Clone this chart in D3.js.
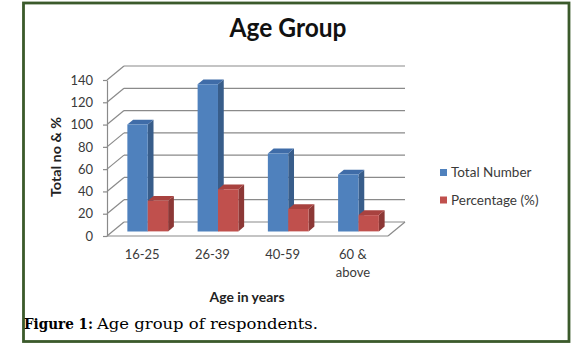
<!DOCTYPE html>
<html>
<head>
<meta charset="utf-8">
<script src="https://cdn.jsdelivr.net/npm/d3@7"></script>
<style>
  body { margin: 0; background: #fff; }
  svg { display: block; }
</style>
</head>
<body>
<svg id="chart" width="580" height="353"></svg>
<script>
'use strict';

// values
const categories = ["16-25", "26-39", "40-59", "60 & above"];
const totalNumber = [96, 132, 70, 51];
const percentage = [27.4, 37.7, 20.1, 14.6];
const yTicks = [0, 20, 40, 60, 80, 100, 120, 140];
const seriesNames = ["Total Number", "Percentage (%)"];

const font = "Lato, 'Open Sans', sans-serif";
let svg = d3.select("#chart");

// frame round the whole figure
svg.append("rect")
  .attr("x", 23.5).attr("y", 3).attr("width", 545.5).attr("height", 338.5)
  .attr("fill", "none").attr("stroke", "#3b5a2b").attr("stroke-width", 2.8);

// 3d layout: front plane of the floor and the depth offset
let left = 107, right = 388;
let depthX = 17, depthY = -14;
let x = d3.scaleBand().domain(categories).range([left, right]);
let y = d3.scaleLinear().domain([0, 140]).range([236, 80]);

let grid = svg.append("g").attr("stroke", "#8a8a8a").attr("stroke-width", 1.2).attr("fill", "none");
// back wall gridlines and side wall diagonals
yTicks.forEach(t => {
  grid.append("line")
    .attr("x1", left + depthX).attr("y1", y(t) + depthY)
    .attr("x2", right + depthX).attr("y2", y(t) + depthY);
  grid.append("line")
    .attr("x1", left).attr("y1", y(t))
    .attr("x2", left + depthX).attr("y2", y(t) + depthY);
});
// floor front edge and right edge
grid.append("line").attr("x1", left).attr("y1", y(0)).attr("x2", right).attr("y2", y(0));
grid.append("line").attr("x1", right).attr("y1", y(0))
  .attr("x2", right + depthX).attr("y2", y(0) + depthY);

// y axis on the front plane
let yAxis = svg.append("g")
  .attr("transform", `translate(${left},0)`)
  .call(d3.axisLeft(y).tickValues(yTicks).tickSize(4).tickSizeOuter(0).tickPadding(10));
yAxis.select(".domain").attr("stroke", "#8a8a8a").attr("stroke-width", 1.2);
yAxis.selectAll(".tick line").attr("stroke", "#8a8a8a").attr("stroke-width", 1.2);
yAxis.selectAll(".tick text").style("font-family", font).style("font-size", "13px").attr("fill", "#3a3a3a");

// x axis labels
let xAxis = svg.append("g")
  .attr("transform", `translate(0,${y(0)})`)
  .call(d3.axisBottom(x).tickSize(0).tickPadding(14));
xAxis.select(".domain").remove();
xAxis.selectAll(".tick text")
  .style("font-family", font).style("font-size", "13px").attr("fill", "#3a3a3a")
  .call(wrap, 40);

// bars: each one is a box between depth fractions f0 and f1
let f0 = 0.33, f1 = 0.67;
let barW = x.bandwidth() * 0.29;
let gap = (x.bandwidth() - 2 * barW) / 2;
let colours = [
  {front: "#4f81bd", side: "#385d8a", top: "#3f6ca8"},
  {front: "#c0504d", side: "#8c3836", top: "#a8423f"}
];

function pt(px, py, f) { return [px + f * depthX, py + f * depthY]; }

function drawBox(g, x0, v, c) {
  let x1 = x0 + barW, yT = y(v), yB = y(0);
  let front = [pt(x0, yB, f0), pt(x1, yB, f0), pt(x1, yT, f0), pt(x0, yT, f0)];
  let side = [pt(x1, yB, f0), pt(x1, yB, f1), pt(x1, yT, f1), pt(x1, yT, f0)];
  let top = [pt(x0, yT, f0), pt(x1, yT, f0), pt(x1, yT, f1), pt(x0, yT, f1)];
  g.append("polygon").attr("points", side.join(" ")).attr("fill", c.side);
  g.append("polygon").attr("points", top.join(" ")).attr("fill", c.top);
  g.append("polygon").attr("points", front.join(" ")).attr("fill", c.front);
}

let bars = svg.append("g");
categories.forEach((cat, i) => {
  let bx = x(cat) + gap;
  drawBox(bars, bx, totalNumber[i], colours[0]);
  drawBox(bars, bx + barW, percentage[i], colours[1]);
});

// title and axis titles
svg.append("text")
  .attr("x", 288).attr("y", 37).attr("text-anchor", "middle")
  .attr("textLength", 117).attr("lengthAdjust", "spacingAndGlyphs")
  .style("font-family", font).style("font-size", "27px").style("font-weight", "bold")
  .attr("fill", "#111").text("Age Group");

svg.append("text")
  .attr("transform", "translate(61,157) rotate(-90)").attr("text-anchor", "middle")
  .attr("textLength", 80).attr("lengthAdjust", "spacingAndGlyphs")
  .style("font-family", font).style("font-size", "13px").style("font-weight", "bold")
  .attr("fill", "#222").text("Total no & %");

svg.append("text")
  .attr("x", 247).attr("y", 302).attr("text-anchor", "middle")
  .attr("textLength", 75).attr("lengthAdjust", "spacingAndGlyphs")
  .style("font-family", font).style("font-size", "13px").style("font-weight", "bold")
  .attr("fill", "#222").text("Age in years");

// legend
let legend = svg.append("g").attr("transform", "translate(440,169)");
seriesNames.forEach((name, i) => {
  legend.append("rect")
    .attr("x", 0).attr("y", i * 27.5).attr("width", 7).attr("height", 7)
    .attr("fill", colours[i].front);
  legend.append("text")
    .attr("x", 11).attr("y", i * 27.5 + 3.5).attr("dy", "0.35em")
    .style("font-family", font).style("font-size", "13.5px")
    .attr("fill", "#3a3a3a").text(name);
});

// figure caption
svg.append("text")
  .attr("x", 24).attr("y", 329)
  .attr("textLength", 69).attr("lengthAdjust", "spacingAndGlyphs")
  .style("font-family", "'DejaVu Serif', serif").style("font-size", "15px").style("font-weight", "bold")
  .attr("fill", "#000").text("Figure 1:");
svg.append("text")
  .attr("x", 97).attr("y", 329)
  .attr("textLength", 221).attr("lengthAdjust", "spacingAndGlyphs")
  .style("font-family", "'DejaVu Serif', serif").style("font-size", "15px")
  .attr("fill", "#000").text("Age group of respondents.");

// wrap long x labels onto two lines
function wrap(text, width) {
  text.each(function() {
    let text = d3.select(this),
        words = text.text().split(/\s+/).reverse(),
        word,
        line = [],
        lineNumber = 0,
        lineHeight = 1.35,
        y = text.attr("y"),
        dy = parseFloat(text.attr("dy")),
        tspan = text.text(null).append("tspan").attr("x", 0).attr("y", y).attr("dy", dy + "em");
    while (word = words.pop()) {
      line.push(word);
      tspan.text(line.join(" "));
      if (tspan.node().getComputedTextLength() > width) {
        line.pop();
        tspan.text(line.join(" "));
        line = [word];
        tspan = text.append("tspan").attr("x", 0).attr("y", y)
          .attr("dy", ++lineNumber * lineHeight + dy + "em").text(word);
      }
    }
  });
}
</script>
</body>
</html>
